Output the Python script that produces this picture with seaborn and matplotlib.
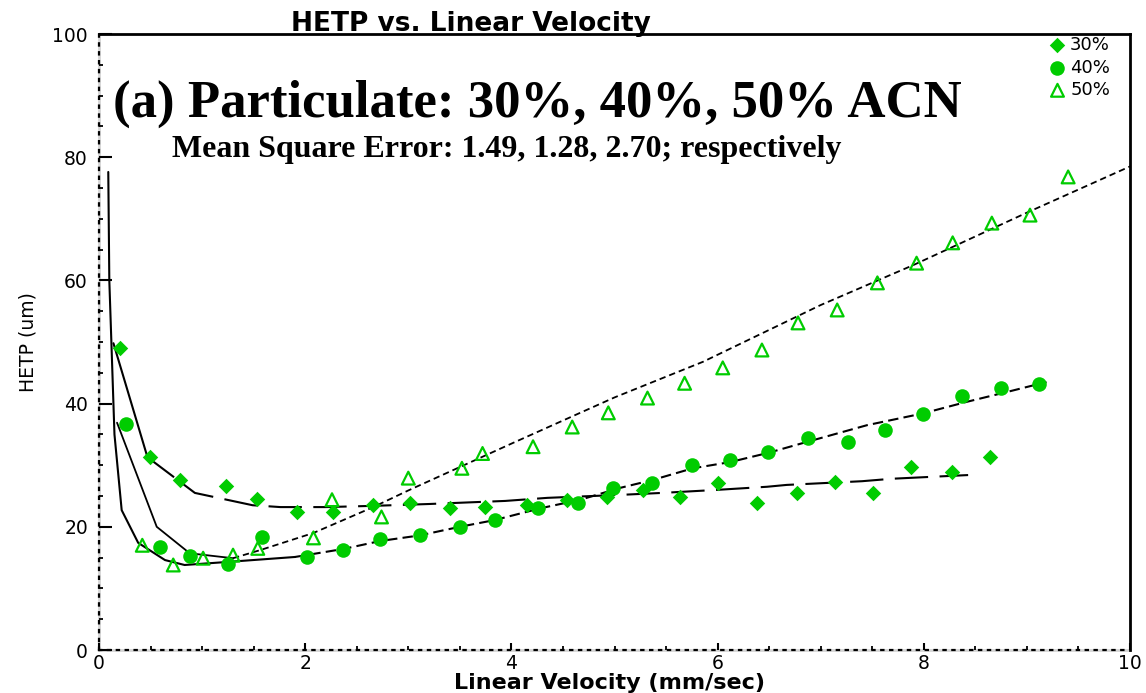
import numpy as np
import pandas as pd
import matplotlib
matplotlib.use("Agg")
import matplotlib.pyplot as plt
import seaborn as sns
from matplotlib.ticker import MultipleLocator

# ---------------- data ----------------
x30 = [0.20, 0.49, 0.79, 1.23, 1.53, 1.92, 2.27, 2.66, 3.02, 3.40, 3.74, 4.15,
       4.54, 4.93, 5.28, 5.64, 6.00, 6.38, 6.77, 7.14, 7.51, 7.88, 8.27, 8.64]
y30 = [49.0, 31.3, 27.6, 26.6, 24.5, 22.4, 22.4, 23.5, 23.9, 23.0, 23.2, 23.5,
       24.4, 24.9, 26.0, 24.9, 27.1, 23.9, 25.5, 27.3, 25.5, 29.7, 28.9, 31.3]

x40 = [0.26, 0.59, 0.88, 1.25, 1.58, 2.02, 2.37, 2.73, 3.11, 3.50, 3.84, 4.26,
       4.65, 4.99, 5.36, 5.75, 6.12, 6.49, 6.88, 7.26, 7.62, 7.99, 8.37, 8.75, 9.12]
y40 = [36.7, 16.7, 15.3, 14.0, 18.3, 15.1, 16.2, 18.0, 18.7, 20.0, 21.1, 23.0,
       23.9, 26.3, 27.1, 30.0, 30.8, 32.1, 34.4, 33.8, 35.7, 38.3, 41.2, 42.5, 43.2]

x50 = [0.42, 0.72, 1.01, 1.30, 1.54, 2.08, 2.26, 2.74, 3.00, 3.52, 3.72, 4.21, 4.59,
       4.94, 5.32, 5.68, 6.05, 6.43, 6.78, 7.16, 7.55, 7.93, 8.28, 8.66, 9.03, 9.40]
y50 = [17.0, 13.8, 14.9, 15.4, 16.5, 18.2, 24.4, 21.6, 27.9, 29.5, 31.9, 33.0, 36.2,
       38.5, 40.9, 43.3, 45.8, 48.7, 53.1, 55.2, 59.6, 62.8, 66.1, 69.3, 70.6, 76.8]

# fitted curves
fx30 = [0.14, 0.47, 0.93, 1.49, 1.76, 2.20, 2.66, 3.20, 3.94, 4.35, 5.08, 5.46,
        6.00, 6.48, 6.67, 7.40, 7.69, 8.43]
fy30 = [49.8, 31.3, 25.5, 23.5, 23.2, 23.2, 23.4, 23.7, 24.2, 24.7, 25.2, 25.5,
        26.0, 26.5, 26.8, 27.4, 27.8, 28.4]

fx40 = [0.09, 0.10, 0.13, 0.15, 0.22, 0.38, 0.64, 0.83, 1.25, 1.90, 2.37, 2.73,
        3.11, 3.50, 3.84, 4.28, 4.67, 5.05, 5.37, 5.76, 6.12, 6.49, 6.87, 7.45,
        7.99, 8.42, 8.81, 9.19]
fy40 = [77.6, 60.0, 45.0, 35.0, 22.7, 17.4, 14.6, 13.8, 14.3, 15.1, 16.4, 17.7,
        18.6, 20.0, 21.1, 23.0, 24.4, 26.3, 27.6, 29.5, 30.5, 32.0, 33.8, 36.5,
        38.4, 40.3, 41.9, 43.5]

fx50 = [0.175, 0.56, 0.88, 1.30, 1.56, 2.08, 2.66, 3.00, 4.00, 5.00, 5.86, 7.00,
        7.90, 9.00, 10.0]
fy50 = [36.9, 20.0, 15.7, 14.9, 16.2, 19.0, 23.2, 25.9, 33.5, 41.0, 46.8, 56.0,
        62.5, 71.0, 78.5]

labels = ["30%", "40%", "50%"]
x_ticks = [0, 2, 4, 6, 8, 10]
y_ticks = [0, 20, 40, 60, 80, 100]

# ---------------- style ----------------
W, H = 1146, 693
GREEN = "#00CC00"
sns.set_theme(style="white")
plt.rcParams["font.family"] = ["DejaVu Sans"]

fig = plt.figure(figsize=(W / 100, H / 100), dpi=100)
ax = fig.add_axes([99 / W, (H - 650) / H, 1031 / W, 616 / H])

# scatter points
sns.scatterplot(x=x30, y=y30, marker="D", s=62, color=GREEN, edgecolor=GREEN,
                linewidth=0, label=labels[0], ax=ax, zorder=3)
sns.scatterplot(x=x40, y=y40, marker="o", s=110, color=GREEN, edgecolor=GREEN,
                linewidth=0, label=labels[1], ax=ax, zorder=3)
sns.scatterplot(x=x50, y=y50, marker="^", s=85, color=GREEN, edgecolor=GREEN,
                linewidth=1.6, label=labels[2], ax=ax, zorder=3)
ax.collections[-1].set_facecolor("none")
ax.collections[-1].set_edgecolor(GREEN)


def draw_fit(xs, ys, split, dashes, lw):
    df = pd.DataFrame({"x": xs, "y": ys})
    solid = df.iloc[: split + 1]
    dashed = df.iloc[split:]
    sns.lineplot(data=solid, x="x", y="y", sort=False, estimator=None,
                 color="black", linewidth=lw, ax=ax, zorder=2)
    sns.lineplot(data=dashed, x="x", y="y", sort=False, estimator=None,
                 color="black", linewidth=lw, ax=ax, zorder=2)
    ax.lines[-1].set_dashes(dashes)


draw_fit(fx30, fy30, 1, (16, 5.5), 1.5)
draw_fit(fx40, fy40, 9, (5, 2.5), 1.5)
draw_fit(fx50, fy50, 3, (3.5, 2.2), 1.3)

# axes
ax.set_xlim(0, 10)
ax.set_ylim(0, 100)
ax.set_xticks(x_ticks)
ax.set_yticks(y_ticks)
ax.set_xticklabels([str(v) for v in x_ticks])
ax.set_yticklabels([str(v) for v in y_ticks])
ax.xaxis.set_minor_locator(MultipleLocator(0.5))
ax.yaxis.set_minor_locator(MultipleLocator(5))
ax.tick_params(axis="y", which="major", direction="in", length=9, width=1.5,
               color="black", labelsize=13.5, pad=8, left=True)
ax.tick_params(axis="x", which="major", direction="in", length=5, width=1.5,
               color="black", labelsize=13.5, pad=3, bottom=True)
ax.tick_params(which="minor", direction="in", length=3, width=1.3,
               color="black", left=True, bottom=True)
for t in ax.get_xticklabels() + ax.get_yticklabels():
    t.set_color("black")

for side in ["top", "right"]:
    ax.spines[side].set_visible(True)
    ax.spines[side].set_color("black")
    ax.spines[side].set_linewidth(2)
for side in ["left", "bottom"]:
    ax.spines[side].set_color("black")
    ax.spines[side].set_linewidth(1.6)
    ax.spines[side].set_linestyle((0, (1, 3)))
ax.axvline(0, color="#d4d4d4", lw=2, zorder=0, clip_on=False)
ax.axhline(0, color="#d4d4d4", lw=2, zorder=0, clip_on=False)

ax.set_xlabel("")
ax.set_ylabel("")

fig.text(609 / W, 1 - 683 / H, "Linear Velocity (mm/sec)", ha="center",
         va="center", fontsize=16, fontweight="bold", color="black")
fig.text(28 / W, 1 - 342 / H, "HETP (um)", ha="center", va="center",
         rotation=90, fontsize=13.5, color="black")
fig.text(471 / W, 1 - 31 / H, "HETP vs. Linear Velocity", ha="center",
         va="baseline", fontsize=19, fontweight="bold", color="black")

fig.text(113 / W, 1 - 117 / H, "(a) Particulate: 30%, 40%, 50% ACN",
         ha="left", va="baseline", fontsize=38, fontweight="bold",
         family=["Liberation Serif"], color="black")
fig.text(172 / W, 1 - 157 / H, "Mean Square Error: 1.49, 1.28, 2.70; respectively",
         ha="left", va="baseline", fontsize=23, fontweight="bold",
         family=["Liberation Serif"], color="black")

leg = ax.legend(loc="upper right", bbox_to_anchor=((1110 - 99) / 1031, (650 - 36) / 616),
                frameon=False, fontsize=13, handlelength=0.8, handletextpad=0.3,
                labelspacing=0.25, borderpad=0, borderaxespad=0)
for t in leg.get_texts():
    t.set_color("black")

fig.savefig("out.png", dpi=100)
